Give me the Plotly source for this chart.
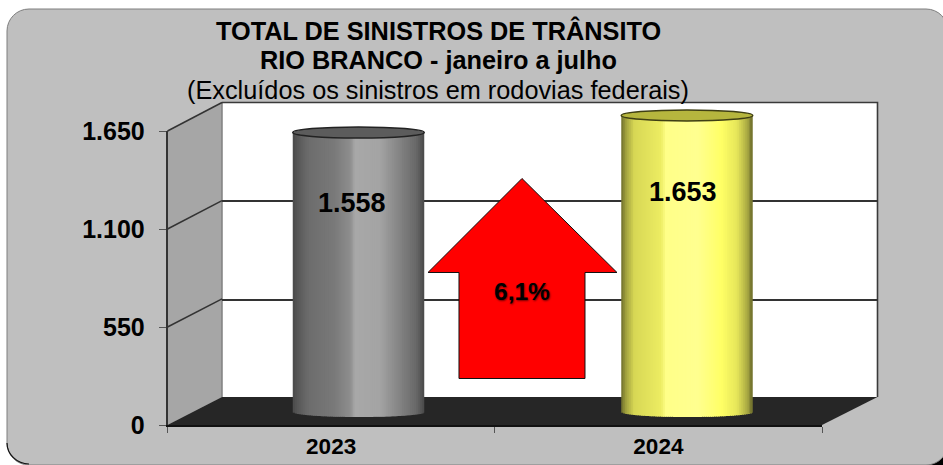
import math
import numpy as np
import plotly.graph_objects as go

categories = ["2023", "2024"]
values = [1558, 1653]
value_labels = ["1.558", "1.653"]
y_ticks = [0, 550, 1100, 1650]
y_tick_labels = ["0", "550", "1.100", "1.650"]
title_lines = ["TOTAL DE SINISTROS DE TRÂNSITO", "RIO BRANCO - janeiro a julho"]
subtitle = "(Excluídos os sinistros em rodovias federais)"
change_label = "6,1%"

W, H = 943, 465
FONT = "Liberation Sans, Arial, sans-serif"
def px(x): return x / W
def py(y): return 1 - y / H
def P(pts):
    return "M " + " L ".join(f"{px(a):.5f},{py(b):.5f}" for a, b in pts) + " Z"

# geometry of the 3-D box (pixels)
FX0, FX1, FY0, FY1 = 167.5, 822, 425, 131     # front plane
BX0, BX1, BY0, BY1 = 222, 877.5, 397, 102.5   # back wall
MX0, MX1 = 194.25, 851.25                     # middle plane, holds the cylinders
MY0, MY1 = 412, 116
EXT = 60
EXT_TOP = 60
MSC = (MY0 - MY1) / 1650
BOT = MY0 + EXT * MSC
TOP = MY1 - EXT_TOP * MSC

gray_stops = [(0, "#4a4a4a"), (.04, "#585858"), (.12, "#6c6c6c"), (.32, "#7a7a7a"), (.44, "#8e8e8e"), (.47, "#a8a8a8"),
              (.66, "#a4a4a4"), (.82, "#828282"), (.94, "#686868"), (1, "#484848")]
yellow_stops = [(0, "#6f6f2c"), (.04, "#a6a640"), (.1, "#d8d855"), (.3, "#ecec62"), (.34, "#ffff88"), (.58, "#ffff90"),
                (.76, "#ffff66"), (.88, "#e6e65a"), (.96, "#a8a842"), (1, "#6a6a2a")]
top_fill = ["#5c5c5c", "#b6b63e"]
top_line = ["#222222", "#3f3f14"]

def hex2rgb(h): return [int(h[i:i+2], 16) for i in (1, 3, 5)]
def ramp(stops, t):
    xs = [s[0] for s in stops]
    c = [np.interp(t, xs, [hex2rgb(s[1])[k] for s in stops]) for k in range(3)]
    return "rgb(%d,%d,%d)" % tuple(int(round(v)) for v in c)

BAR_W = 131.5 / ((MX1 - MX0) / 2)
N = 66
base_h = 5 / MSC

fig = go.Figure()

# wall gridlines (drawn first, behind everything)
fig.add_trace(go.Scatter(x=[0], y=[0], xaxis="x", yaxis="y", mode="markers", opacity=0, hoverinfo="skip", showlegend=False))
# front plane carries the visible axes
fig.add_trace(go.Scatter(x=categories, y=values, xaxis="x2", yaxis="y2", mode="markers", opacity=0, hoverinfo="skip", showlegend=False))
# cylinders on the middle plane
for i, (cat, val, stops) in enumerate(zip(categories, values, [gray_stops, yellow_stops])):
    sw = BAR_W / N
    offs = [-BAR_W / 2 + k * sw for k in range(N)]
    wid = [min(sw * 1.6, BAR_W / 2 - o) for o in offs]
    bases = [-base_h * math.sqrt(max(0, 1 - (2 * (k + .5) / N - 1) ** 2)) for k in range(N)]
    cols = [ramp(stops, (k + .5) / N) for k in range(N)]
    fig.add_trace(go.Bar(x=[cat] * N, y=[val - b for b in bases], base=bases, offset=offs, width=wid,
                         marker=dict(color=cols, line=dict(width=0)), xaxis="x3", yaxis="y3",
                         name=cat, showlegend=False, hoverinfo="skip"))

shapes = []
def S(path, fill=None, line=None, lw=0, layer="below"):
    shapes.append(dict(type="path", path=path, xref="paper", yref="paper", fillcolor=fill or "rgba(0,0,0,0)",
                       line=dict(color=line or "rgba(0,0,0,0)", width=lw), layer=layer))

# rounded panel
L, T, R, B, r = 7, 9, 948, 465, 22
k = r * 0.4477
S(P([(918, 445), (943, 445), (943, 465), (918, 465)]), fill="#000000")
panel = (f"M {px(L+r)},{py(T)} L {px(R-r)},{py(T)} C {px(R-k)},{py(T)} {px(R)},{py(T+k)} {px(R)},{py(T+r)} "
         f"L {px(R)},{py(B-r)} C {px(R)},{py(B-k)} {px(R-k)},{py(B)} {px(R-r)},{py(B)} L {px(L+r)},{py(B)} "
         f"C {px(L+k)},{py(B)} {px(L)},{py(B-k)} {px(L)},{py(B-r)} L {px(L)},{py(T+r)} "
         f"C {px(L)},{py(T+k)} {px(L+k)},{py(T)} {px(L+r)},{py(T)} Z")
S(panel, fill="#bfbfbf", line="#7f7f7f", lw=1)
S(f"M {px(L)},{py(B-r)} C {px(L)},{py(B-k-1)} {px(L+k)},{py(B-1)} {px(L+r)},{py(B-1)}", line="#111111", lw=1.2)

# box
S(P([(BX0, BY1), (BX1, BY1), (BX1, BY0), (BX0, BY0)]), fill="#ffffff")
S(P([(FX0, FY0), (FX0, FY1), (BX0, BY1), (BX0, BY0)]), fill="#a6a6a6")
S(P([(FX0, FY0), (BX0, BY0), (BX1, BY0), (FX1, FY0)]), fill="#262626")
S(f"M {px(BX0)},{py(BY0)} L {px(BX0)},{py(BY1)}", line="#808080", lw=1.5)
S(f"M {px(BX0)},{py(BY1)} L {px(BX1)},{py(BY1)} L {px(BX1)},{py(BY0)}", line="#3a3a3a", lw=1.6)
for v in y_ticks:
    yf = FY0 - v * (FY0 - FY1) / 1650
    yb = BY0 - v * (BY0 - BY1) / 1650
    if v > 0:
        S(f"M {px(FX0)},{py(yf)} L {px(BX0)},{py(yb)}", line="#333333", lw=1.5)

# top ellipses of the cylinders, anchored to their values
for i, val in enumerate(values):
    shapes.append(dict(type="circle", xref="x3", yref="y3", x0=i - BAR_W / 2, x1=i + BAR_W / 2,
                       ysizemode="pixel", yanchor=val, y0=-5.5, y1=5.5,
                       fillcolor=top_fill[i], line=dict(color=top_line[i], width=1.5), layer="above"))

# red arrow
S(P([(522, 178.5), (617, 272.5), (585, 272.5), (585, 378.5), (459, 378.5), (459, 272.5), (428, 272.5)]),
  fill="#ff0000", line="#111111", lw=1, layer="above")

ann = []
def text(x, y, t, size, bold=True, **kw):
    ann.append(dict(x=px(x), y=py(y), xref="paper", yref="paper", text=f"<b>{t}</b>" if bold else t, showarrow=False,
                    font=dict(family=FONT, size=size, color="#000000", **kw), xanchor="center", yanchor="middle"))
text(438, 30.5, title_lines[0], 25.3)
text(438, 60, title_lines[1], 25.3)
text(438, 89.5, subtitle, 25.3, bold=False)
text(522, 291, change_label, 24.5, shadow="1px 1px 2px rgba(0,0,0,0.55)")
label_shift = [(-6.5, -70.5), (-4, -77)]
for i, val in enumerate(values):
    ann.append(dict(x=i, y=val, xref="x3", yref="y3", text=f"<b>{value_labels[i]}</b>", showarrow=False,
                    xshift=label_shift[i][0], yshift=label_shift[i][1], xanchor="center", yanchor="middle",
                    font=dict(family=FONT, size=27, color="#000000")))

hidden = dict(visible=False, showgrid=False, zeroline=False)
fig.update_layout(
    width=W, height=H, autosize=False, margin=dict(l=0, r=0, t=0, b=0, autoexpand=False),
    paper_bgcolor="#ffffff", plot_bgcolor="rgba(0,0,0,0)", barmode="overlay", showlegend=False,
    font=dict(family=FONT), shapes=shapes, annotations=ann,
    xaxis=dict(domain=[px(BX0), px(BX1)], anchor="y", range=[0, 1], **hidden),
    yaxis=dict(domain=[py(BY0 + .8), py(BY1 + .8)], anchor="x", range=[0, 1650], visible=True, showgrid=True, zeroline=False,
               gridcolor="#333333", gridwidth=1.5, tickmode="array", tickvals=y_ticks[1:3], ticktext=["", ""],
               showticklabels=False, ticks="", showline=False),
    xaxis2=dict(domain=[px(FX0), px(FX1)], anchor="y2", type="category", categoryorder="array", categoryarray=categories,
                range=[-.5, 1.5], tickson="boundaries", ticks="outside", ticklen=6, tickwidth=1, tickcolor="#555555",
                showline=True, linecolor="#111111", linewidth=1.5, showgrid=False, zeroline=False,
                tickfont=dict(family=FONT, size=22.5, color="#000000", weight="bold")),
    yaxis2=dict(domain=[py(FY0), py(FY1)], anchor="x2", range=[0, 1650], tickmode="array", tickvals=y_ticks,
                ticktext=y_tick_labels, ticks="outside", ticklen=7, tickwidth=1, tickcolor="#555555", ticklabelstandoff=9,
                showline=True, linecolor="#333333", linewidth=1.5, showgrid=False, zeroline=False,
                tickfont=dict(family=FONT, size=25, color="#000000", weight="bold")),
    xaxis3=dict(domain=[px(MX0), px(MX1)], anchor="y3", type="category", categoryorder="array", categoryarray=categories,
                range=[-.5, 1.5], **hidden),
    yaxis3=dict(domain=[py(BOT), py(TOP)], anchor="x3", range=[-EXT, 1650 + EXT_TOP], **hidden),
)
fig.write_html("out.html", config=dict(displayModeBar=False),
               post_script="document.body.style.margin='0';document.body.style.overflow='hidden';")
